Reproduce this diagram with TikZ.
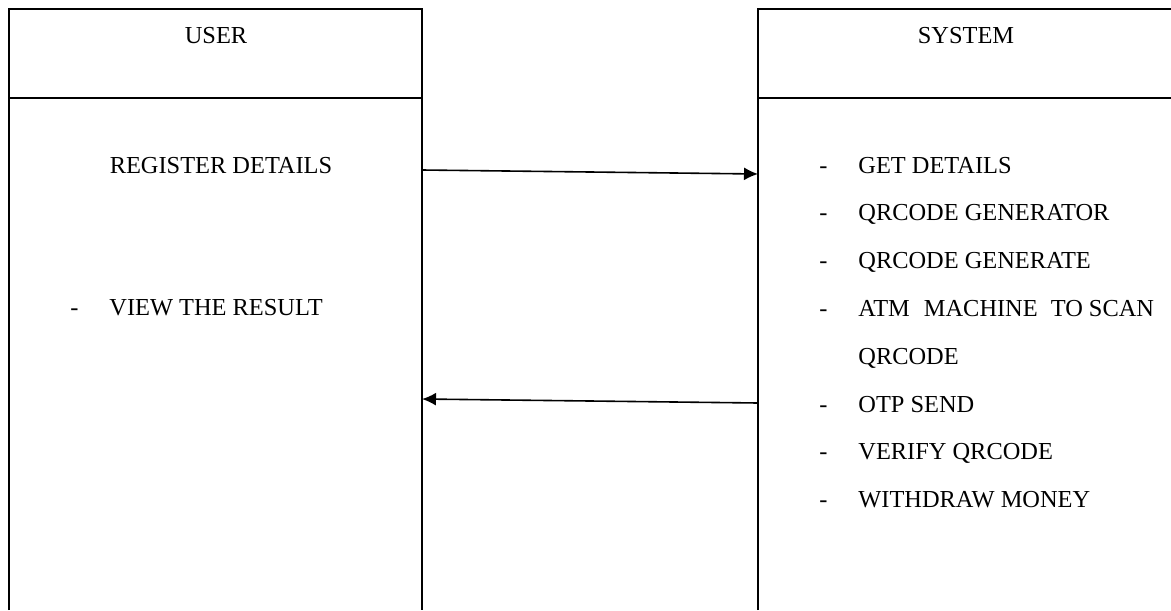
\documentclass[tikz,border=0pt]{standalone}
\usepackage{fontspec}
\setmainfont{Liberation Serif}
\usetikzlibrary{positioning, arrows.meta}
\newcommand{\itemdash}{\makebox[19.5pt][l]{-}}

\begin{document}
\begin{tikzpicture}[
      x=0.5pt, y=-0.5pt,
      frame/.style={line width=1pt},
      label/.style={
        font=\fontsize{12.2}{14}\selectfont,
        inner sep=0pt,
        text height=9pt,
        text depth=3pt
      },
      arrow/.style={-{Latex[length=7pt, width=6.5pt]}, line width=0.8pt}
    ]
    \useasboundingbox (0,0) rectangle (1171,610);

    % Frames (open at the bottom)
    \draw [frame] (9,610) -- (9,9) -- (422,9) -- (422,610);
    \draw [frame] (9,98) -- (422,98);
    \draw [frame] (758,610) -- (758,9) -- (1171,9);
    \draw [frame] (758,98) -- (1171,98);

    % Headers
    \node [label, anchor=base] (user) at (216,44) {USER};
    \node [label, anchor=base] (system) at (966,44) {SYSTEM};

    % User side
    \node [label, anchor=base] (register) at (221,173) {REGISTER DETAILS};
    \node [label, anchor=base west] (view) at (70,315) {\itemdash VIEW THE RESULT};

    % System side
    \node [label, anchor=base west] (get) at (819,173) {\itemdash GET DETAILS};
    \node [label, below right=11.5pt and 0pt of get.south west] (generator) {\itemdash QRCODE GENERATOR};
    \node [label, below right=11.5pt and 0pt of generator.south west] (generate) {\itemdash QRCODE GENERATE};
    \node [label, below right=11.5pt and 0pt of generate.south west] (atm) {\itemdash ATM\hspace{7pt}MACHINE\hspace{6.5pt}TO SCAN};
    \node [label, below right=11.5pt and 0pt of atm.south west] (scan) {\hspace*{19.5pt}QRCODE};
    \node [label, below right=11.5pt and 0pt of scan.south west] (otp) {\itemdash OTP SEND};
    \node [label, below right=11.5pt and 0pt of otp.south west] (verify) {\itemdash VERIFY QRCODE};
    \node [label, below right=11.5pt and 0pt of verify.south west] (withdraw) {\itemdash WITHDRAW MONEY};

    % Frame points for the arrows
    \coordinate (userout) at (422,170);
    \coordinate (systemin) at (758,174);
    \coordinate (systemout) at (758,403);
    \coordinate (userin) at (422,399);

    % Draw direct paths
    \draw [arrow] (userout) -- (systemin);
    \draw [arrow] (systemout) -- (userin);
  \end{tikzpicture}
\end{document}
